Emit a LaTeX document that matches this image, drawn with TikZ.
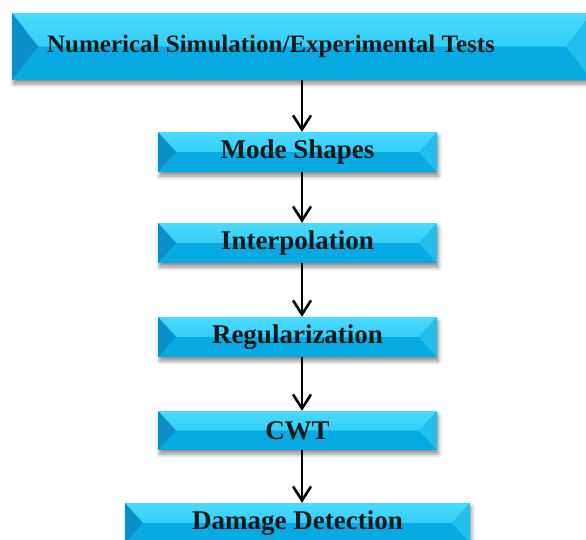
\documentclass[tikz,border=0pt]{standalone}
\usepackage{fontspec}
\setmainfont{Liberation Serif}
\usetikzlibrary{arrows.meta,shadows.blur}
\definecolor{cMain}{HTML}{16B8EE}
\definecolor{cTop}{HTML}{4ADAFD}
\definecolor{cTopB}{HTML}{1EC1F3}
\definecolor{cBot}{HTML}{08AAE3}
\definecolor{cLeft}{HTML}{0A8FC8}
\definecolor{cRight}{HTML}{24BEEC}
\tikzset{
  flowbox/.style={rectangle, inner sep=0pt, fill=cMain,
    font=\fontsize{27}{32}\selectfont\bfseries, text=black!90,
    blur shadow={shadow xshift=1.5pt, shadow yshift=-4pt, shadow blur radius=4pt, shadow opacity=45},
    path picture={
      \fill[top color=cTop, bottom color=cTopB]
        (path picture bounding box.north west) -- (path picture bounding box.north east)
        -- ([xshift=-#1]path picture bounding box.east) -- ([xshift=#1]path picture bounding box.west) -- cycle;
      \fill[cBot]
        (path picture bounding box.south west) -- (path picture bounding box.south east)
        -- ([xshift=-#1]path picture bounding box.east) -- ([xshift=#1]path picture bounding box.west) -- cycle;
      \fill[cLeft]
        (path picture bounding box.north west) -- ([xshift=#1]path picture bounding box.west)
        -- (path picture bounding box.south west) -- cycle;
      \fill[cRight]
        (path picture bounding box.north east) -- ([xshift=-#1]path picture bounding box.east)
        -- (path picture bounding box.south east) -- cycle;
    }},
  bigtext/.style={font=\fontsize{25}{30}\selectfont\bfseries},
  arr/.style={line width=2.6pt, -{Straight Barb[length=14pt,width=18pt,line width=2.6pt]}}
}
\begin{document}
\begin{tikzpicture}[x=1pt,y=-1pt]
\useasboundingbox (0,0) rectangle (586,539);
\coordinate (ax) at (302,0);
\node[flowbox=26pt, bigtext, minimum width=580pt, minimum height=67pt] (top) at (302,46.5)
  {\hspace*{-62pt}Numerical Simulation/Experimental Tests};
\node[flowbox=18pt, minimum width=279pt, minimum height=40pt] (ms) at (297.5,152) {Mode Shapes};
\node[flowbox=18pt, minimum width=279pt, minimum height=40pt] (ip) at (297.5,243) {Interpolation};
\node[flowbox=18pt, minimum width=279pt, minimum height=40pt] (rg) at (297.5,337) {Regularization};
\node[flowbox=18pt, minimum width=279pt, minimum height=39pt] (cw) at (297.5,430.5) {CWT};
\node[flowbox=18pt, minimum width=345pt, minimum height=40pt] (dd) at (297.5,523) {Damage Detection};
\draw[arr] (top.south -| ax) -- (ms.north -| ax);
\draw[arr] (ms.south -| ax) -- (ip.north -| ax);
\draw[arr] (ip.south -| ax) -- (rg.north -| ax);
\draw[arr] (rg.south -| ax) -- (cw.north -| ax);
\draw[arr] (cw.south -| ax) -- (dd.north -| ax);
\end{tikzpicture}
\end{document}
